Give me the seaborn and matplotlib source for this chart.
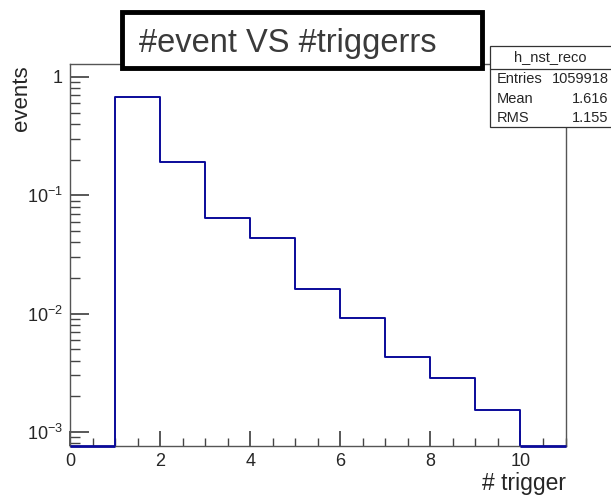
import numpy as np
import pandas as pd
import seaborn as sns
import matplotlib
matplotlib.use("Agg")
import matplotlib.pyplot as plt
from matplotlib.ticker import LogLocator, MultipleLocator, FixedLocator, NullFormatter
from matplotlib.patches import Rectangle
from matplotlib.lines import Line2D

# Data (normalized histogram, bins of width 1 from 0 to 11)
bin_edges = [0, 1, 2, 3, 4, 5, 6, 7, 8, 9, 10, 11]
bin_values = [0.0, 0.673, 0.192, 0.0643, 0.0436, 0.0160, 0.00924, 0.00432, 0.00287, 0.00153, 0.0]
x_ticks = [0, 2, 4, 6, 8, 10]
y_ticks = [1e-3, 1e-2, 1e-1, 1]
y_tick_labels = ["$10^{-3}$", "$10^{-2}$", "$10^{-1}$", "$1$"]

title_text = "#event VS #triggerrs"
stats_name = "h_nst_reco"
stats_rows = [("Entries", "1059918"), ("Mean", "1.616"), ("RMS", "1.155")]

sns.set_theme(style="white")
plt.rcParams['font.family'] = ['Liberation Sans', 'DejaVu Sans']
plt.rcParams['mathtext.fontset'] = 'custom'
plt.rcParams['mathtext.rm'] = 'Liberation Sans'
plt.rcParams['mathtext.it'] = 'Liberation Sans'
plt.rcParams['mathtext.default'] = 'regular'

W, H = 611, 495
fig = plt.figure(figsize=(W / 100, H / 100), dpi=100)
ax_l, ax_r, ax_t, ax_b = 70, 565.5, 64.3, 445.7
ax = fig.add_axes([ax_l / W, 1 - ax_b / H, (ax_r - ax_l) / W, (ax_b - ax_t) / H])

line_col = "#0a0a9a"
centers = [(bin_edges[i] + bin_edges[i + 1]) / 2 for i in range(len(bin_values))]
df = pd.DataFrame({"trigger": centers, "w": bin_values})
sns.histplot(data=df, x="trigger", weights="w", bins=bin_edges, element="step",
             fill=False, color=line_col, linewidth=1.4, ax=ax)
ax.set_yscale("log")
ax.set_xlim(0, 11)
ymin = 7.64e-4
ax.set_ylim(ymin, 1.28)
# empty bins drawn on the lower frame, as ROOT does
for i, v in enumerate(bin_values):
    if v <= 0:
        ax.hlines(ymin, bin_edges[i], bin_edges[i + 1], color=line_col, linewidth=2.0,
                  clip_on=False, zorder=5)

frame_col = "#555555"
for s in ax.spines.values():
    s.set_color(frame_col)
    s.set_linewidth(1.0)

ax.xaxis.set_major_locator(FixedLocator(x_ticks))
ax.xaxis.set_minor_locator(MultipleLocator(0.5))
ax.yaxis.set_major_locator(FixedLocator(y_ticks))
ax.yaxis.set_minor_locator(LogLocator(base=10, subs=np.arange(2, 10)))
ax.yaxis.set_minor_formatter(NullFormatter())
ax.set_yticklabels(y_tick_labels)
ax.set_xticklabels([str(t) for t in x_ticks])
ax.tick_params(axis="both", which="both", direction="in", color="#444444",
               bottom=True, left=True, top=False, right=False)
ax.tick_params(axis="x", which="major", length=11, labelsize=13, pad=5)
ax.tick_params(axis="x", which="minor", length=5.5)
ax.tick_params(axis="y", which="major", length=14, labelsize=13, pad=5)
ax.tick_params(axis="y", which="minor", length=7)

ax.set_xlabel("")
ax.set_ylabel("")
fig.text(ax_r / W, 1 - 490 / H, "# trigger", ha="right", va="baseline", fontsize=16.5)
fig.text(0.018, 1 - 65 / H, "events", ha="left", va="top", rotation=90, fontsize=16)

# Title box
fig.patches.append(Rectangle((122 / W, 1 - 68 / H), (482 - 122) / W, (68 - 12) / H,
                             transform=fig.transFigure, facecolor="white", edgecolor="black",
                             linewidth=3.5, zorder=5))
fig.text(139 / W, 1 - 52 / H, title_text, ha="left", va="baseline", fontsize=23.5,
         color="#3a3a3a", zorder=6)

# Stats box
bx0, bx1 = 490 / W, 613 / W
by_top, by_bot = 1 - 46 / H, 1 - 127 / H
fig.patches.append(Rectangle((bx0, by_bot), bx1 - bx0, by_top - by_bot, transform=fig.transFigure,
                             facecolor="white", edgecolor="#333333", linewidth=0.9, zorder=5))
fig.lines.append(Line2D([bx0, bx1], [1 - 69 / H, 1 - 69 / H], transform=fig.transFigure,
                        color="#333333", linewidth=0.9, zorder=6))
fig.text(550 / W, 1 - 57 / H, stats_name, ha="center", va="center", fontsize=10.5, zorder=7)
row_y = [79, 99, 118]
for (k, v), yy in zip(stats_rows, row_y):
    fig.text(497 / W, 1 - yy / H, k, ha="left", va="center", fontsize=10.5, zorder=7)
    fig.text(608.5 / W, 1 - yy / H, v, ha="right", va="center", fontsize=10.5, zorder=7)

fig.savefig("out.png", dpi=100)
